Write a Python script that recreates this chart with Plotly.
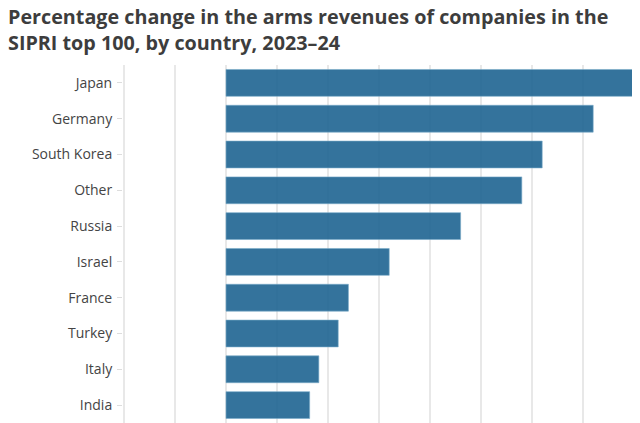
import plotly.graph_objects as go

countries = ["Japan", "Germany", "South Korea", "Other", "Russia", "Israel",
             "France", "Turkey", "Italy", "India"]
pct_change = [40, 36, 31, 29, 23, 16, 12, 11, 9.1, 8.2]

title_text = ("<b>Percentage change in the arms revenues of companies in the<br>"
              "SIPRI top 100, by country, 2023–24</b>")

W, H = 632, 415
L, R, T, B = 115, 6, 57, 0

fig = go.Figure()
fig.add_trace(go.Bar(
    y=countries,
    x=pct_change,
    orientation="h",
    marker=dict(color="rgba(30,100,145,0.9)",
                line=dict(color="rgba(120,170,200,0.6)", width=1)),
    hoverinfo="x+y",
))

plot_w = W - L - R
plot_h = H - T - B
fig.add_annotation(
    text=title_text, xref="paper", yref="paper",
    x=(-1 - L) / plot_w, y=1 + (T + 6) / plot_h,
    xanchor="left", yanchor="top", align="left", showarrow=False,
    borderpad=0,
    font=dict(family="Open Sans", size=19.75, color="#3d3d3d"),
)

fig.update_layout(
    width=W, height=H,
    margin=dict(l=L, r=R, t=T, b=B, autoexpand=False),
    paper_bgcolor="white", plot_bgcolor="white",
    font=dict(family="Open Sans", size=14, color="#444"),
    bargap=0.25,
    showlegend=False,
)
fig.update_xaxes(range=[-10.1, 40], dtick=5, tick0=0, showgrid=True, gridcolor="#e8e8e8",
                 gridwidth=1.5, zeroline=False, showticklabels=False, showline=False,
                 automargin=False)
fig.update_yaxes(autorange="reversed", showgrid=False, ticks="outside",
                 ticklen=5, tickcolor="#ddd", ticklabelstandoff=2,
                 tickfont=dict(size=14, color="#444"), automargin=False)

fig.write_html("out.html")
